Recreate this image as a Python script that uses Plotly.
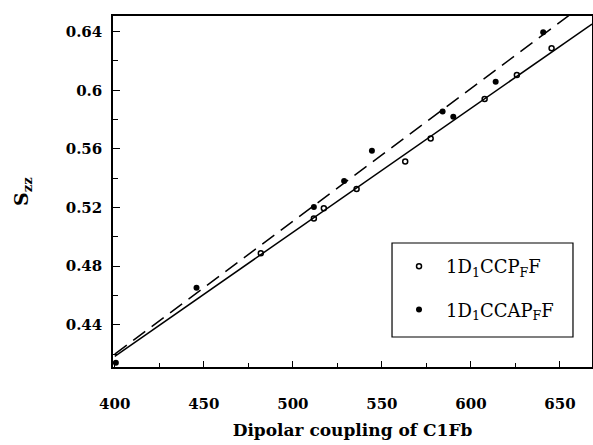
import numpy as np
import plotly.graph_objects as go

# Data
ccp_x = [482.0, 511.8, 517.4, 535.8, 563.1, 577.4, 607.7, 625.8, 645.3]
ccp_y = [0.4888, 0.5126, 0.5196, 0.5327, 0.5515, 0.5671, 0.5940, 0.6104, 0.6287]
ccap_x = [400.6, 445.9, 511.8, 528.8, 544.4, 584.1, 590.1, 613.9, 640.6]
ccap_y = [0.4141, 0.4653, 0.5203, 0.5381, 0.5588, 0.5855, 0.5819, 0.6058, 0.6396]

# Linear fits (intercept at x=400, slope)
fit_solid = (0.4185, 0.000846)
fit_dash = (0.4200, 0.000906)
fit_x_range = [400, 668]

x_ticks = [400, 450, 500, 550, 600, 650]
y_ticks = [0.44, 0.48, 0.52, 0.56, 0.60, 0.64]

X_RANGE = [399, 668]
Y_RANGE = [0.4112, 0.6507]

xs = np.linspace(fit_x_range[0], fit_x_range[1], 50)
solid_y = fit_solid[0] + fit_solid[1] * (xs - 400)
dash_y = fit_dash[0] + fit_dash[1] * (xs - 400)

fig = go.Figure()
fig.add_trace(go.Scatter(x=xs, y=solid_y, mode="lines",
                         line=dict(color="black", width=1.5), showlegend=False,
                         hoverinfo="skip"))
fig.add_trace(go.Scatter(x=xs, y=dash_y, mode="lines",
                         line=dict(color="black", width=1.5, dash="15px,8px"),
                         showlegend=False, hoverinfo="skip"))
fig.add_trace(go.Scatter(x=ccp_x, y=ccp_y, mode="markers",
                         name="1D<sub>1</sub>CCP<sub>F</sub>F", legendgroup="a",
                         marker=dict(symbol="circle-open", size=5, color="black",
                                     line=dict(width=1.5, color="black"))))
fig.add_trace(go.Scatter(x=ccap_x, y=ccap_y, mode="markers",
                         name="1D<sub>1</sub>CCAP<sub>F</sub>F", legendgroup="b",
                         marker=dict(symbol="circle", size=6, color="black")))

serif = "DejaVu Serif"
tickfont = dict(family=serif, size=15, color="black", weight="bold")

# legend frame drawn as a paper-referenced box
fig.add_shape(type="rect", xref="paper", yref="paper",
              x0=0.5825, x1=0.9603, y0=0.0855, y1=0.3533,
              line=dict(color="black", width=1.2), fillcolor="rgba(0,0,0,0)",
              layer="above")

fig.update_layout(
    width=593, height=445,
    margin=dict(l=113, r=1, t=16, b=78),
    paper_bgcolor="white", plot_bgcolor="white",
    showlegend=True,
    legend=dict(x=0.5825, y=0.339, xanchor="left", yanchor="top",
                borderwidth=0, bgcolor="rgba(0,0,0,0)",
                font=dict(family=serif, size=18, color="black"),
                tracegroupgap=17, itemwidth=44),
    xaxis=dict(range=X_RANGE, tickvals=x_ticks, ticks="inside", ticklen=6,
               tickwidth=1.2, tickcolor="black", automargin=False,
               minor=dict(dtick=25, tick0=400, ticks="inside", ticklen=4,
                          tickcolor="black", tickwidth=1),
               showline=True, linecolor="black", linewidth=1.5, mirror=True,
               showgrid=False, zeroline=False, tickfont=tickfont,
               ticklabelstandoff=22,
               title=dict(text="Dipolar coupling of C1Fb", standoff=12,
                          font=dict(family=serif, size=17, color="black",
                                    weight="bold"))),
    yaxis=dict(range=Y_RANGE, tickvals=y_ticks, ticks="inside", ticklen=7,
               tickwidth=1.2, tickcolor="black", automargin=False,
               minor=dict(dtick=0.02, tick0=0.42, ticks="inside", ticklen=5,
                          tickcolor="black", tickwidth=1),
               showline=True, linecolor="black", linewidth=1.5, mirror=True,
               showgrid=False, zeroline=False, tickfont=tickfont,
               ticklabelstandoff=6,
               title=dict(text="S<sub>zz</sub>", standoff=32,
                          font=dict(family=serif, size=19, color="black",
                                    weight="bold"))),
)

fig.write_html("out.html", config={"displayModeBar": False},
               post_script="document.body.style.margin='0';"
                           "document.body.style.overflow='hidden';")
